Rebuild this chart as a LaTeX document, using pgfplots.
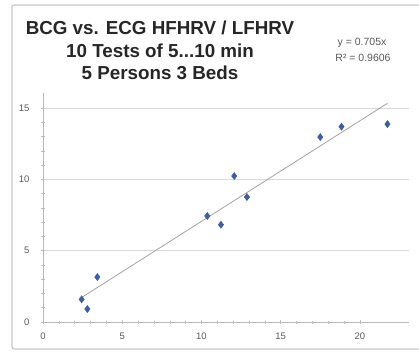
\documentclass[border=0pt]{standalone}
\usepackage{fontspec}
\setmainfont{Liberation Sans}
\usepackage{pgfplots}
\pgfplotsset{compat=1.18}
\definecolor{mk}{HTML}{3F5E9E}
\definecolor{tl}{HTML}{595959}
\definecolor{gl}{HTML}{D9D9D9}
\definecolor{trend}{HTML}{A8A0A0}
\begin{document}
\begin{tikzpicture}[x=1pt,y=1pt]
\useasboundingbox (-43,-29) rectangle (376,322);
\draw[gray!45, line width=1.2pt, rounded corners=2pt] (376.5,317) -- (-31,317) -- (-31,-27) -- (376.5,-27);
\begin{axis}[
  scale only axis, width=366pt, height=229pt,
  at={(0,0)}, anchor=south west,
  xmin=0, xmax=23.1, ymin=0, ymax=16.05,
  xtick={0,5,10,15,20}, ytick={0,5,10,15},
  minor x tick num=4, minor y tick num=4,
  axis lines*=left,
  axis line style={-, draw=gray!55, line width=0.8pt},
  ymajorgrids, grid style={gl, line width=0.8pt},
  tick style={gray!50, line width=0.5pt},
  tick align=center, major tick length=4pt, minor tick length=3pt,
  every tick label/.style={font=\fontsize{9.5}{11}\selectfont, text=tl},
  xticklabel style={yshift=-5pt},
  yticklabel style={xshift=-8pt},
  /pgf/number format/assume math mode=true,
  clip=false,
]
\addplot[only marks, mark=diamond*, mark size=3.6pt, mk, mark options={draw=mk, fill=mk}] coordinates {
(2.44,1.59) (2.80,0.91) (3.43,3.15) (10.37,7.43) (11.23,6.82)
(12.07,10.23) (12.87,8.76) (17.50,12.96) (18.84,13.69) (21.74,13.87)};
\addplot[trend, line width=0.8pt] coordinates {(2.44,1.72) (21.74,15.33)};
\end{axis}
\node[font=\bfseries\fontsize{18.8}{20}\selectfont, text=black!85] at (117,294) {BCG vs. ECG HFHRV / LFHRV};
\node[font=\bfseries\fontsize{18.8}{20}\selectfont, text=black!85] at (117,271) {10 Tests of 5...10 min};
\node[font=\bfseries\fontsize{18.8}{20}\selectfont, text=black!85] at (117,249) {5 Persons 3 Beds};
\node[font=\fontsize{10.5}{11}\selectfont, text=tl] at (319,279) {y = 0.705x};
\node[font=\fontsize{10.5}{11}\selectfont, text=tl] at (320,264) {R² = 0.9606};
\end{tikzpicture}
\end{document}
